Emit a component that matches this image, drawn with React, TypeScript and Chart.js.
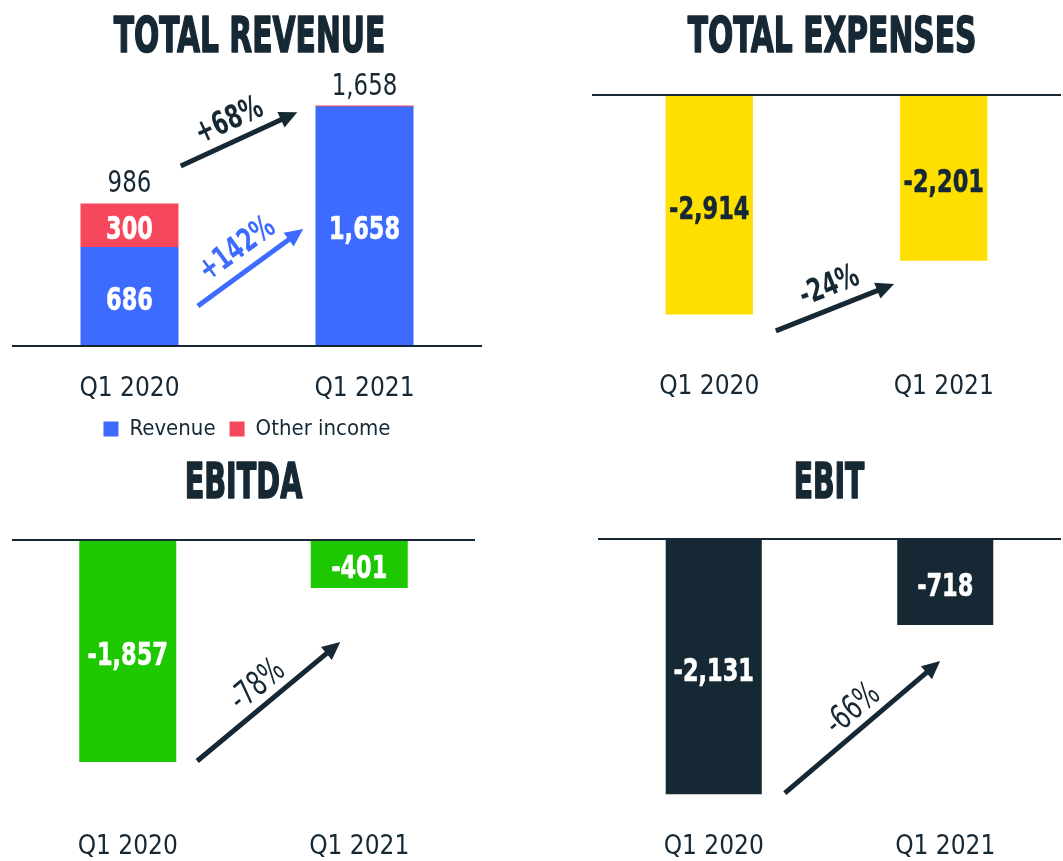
import React, { useEffect, useRef } from "react";
import { Chart, registerables } from "chart.js";

Chart.register(...registerables);

// ---------------- data ----------------
const quarters = ["Q1 2020", "Q1 2021"];
const revenue = [686, 1658];
const otherIncome = [300, 0];
const revenueTotals = [986, 1658];
const totalExpenses = [-2914, -2201];
const ebitda = [-1857, -401];
const ebit = [-2131, -718];
const totalRevenueChange = "+68%";
const revenueChange = "+142%";
const expensesChange = "-24%";
const ebitdaChange = "-78%";
const ebitChange = "-66%";

// ---------------- styles ----------------
const NARROW =
  "'Liberation Sans Narrow', 'DejaVu Sans Condensed', 'Arial Narrow', 'Liberation Sans', sans-serif";
const DARK = "#172835";
const BLUE = "#3d6bff";
const RED = "#f5485d";
const YELLOW = "#ffdf00";
const GREEN = "#1dc800";

const fmt = (v: number) => v.toLocaleString("en-US");

function drawText(
  ctx: any,
  text: string,
  x: number,
  y: number,
  o: { font: string; color: string; k: number; baseline?: string; rotation?: number; stroke?: number }
) {
  ctx.save();
  ctx.translate(x, y);
  if (o.rotation) ctx.rotate(o.rotation);
  ctx.scale(o.k, 1);
  ctx.font = o.font;
  ctx.fillStyle = o.color;
  ctx.textAlign = "center";
  ctx.textBaseline = o.baseline || "alphabetic";
  ctx.fillText(text, 0, 0);
  if (o.stroke) {
    ctx.strokeStyle = o.color;
    ctx.lineWidth = o.stroke;
    ctx.lineJoin = "round";
    ctx.strokeText(text, 0, 0);
  }
  ctx.restore();
}

function makeDecor(spec: any) {
  return {
    id: "decor",
    afterDraw(chart: any) {
      const ctx = chart.ctx;
      const xs = chart.scales.x;
      const ys = chart.scales.y;
      if (spec.title) {
        const { text, cx, baseline, width, size } = spec.title;
        ctx.save();
        ctx.font = `bold ${size}px ${NARROW}`;
        const w = ctx.measureText(text).width + 2;
        ctx.restore();
        drawText(ctx, text, cx, baseline, {
          font: `bold ${size}px ${NARROW}`,
          color: DARK,
          k: width / w,
          stroke: 1.6,
        });
      }
      (spec.inside || []).forEach((s: any) => {
        const meta = chart.getDatasetMeta(s.dataset);
        const data = chart.data.datasets[s.dataset].data;
        meta.data.forEach((el: any, i: number) => {
          const v = data[i];
          if (!v) return;
          const mid = (el.y + el.base) / 2;
          drawText(ctx, fmt(v), el.x, mid + s.size * 0.365 + 2, {
            font: `bold ${s.size}px ${NARROW}`,
            color: s.color,
            k: s.k,
            stroke: 0.6,
          });
        });
      });
      if (spec.totals) {
        const { values, gap, size, k } = spec.totals;
        values.forEach((v: number, i: number) => {
          drawText(ctx, fmt(v), xs.getPixelForValue(i), ys.getPixelForValue(v) - gap, {
            font: `${size}px ${NARROW}`,
            color: DARK,
            k,
          });
        });
      }
      const c0 = xs.getPixelForValue(0);
      const c1 = xs.getPixelForValue(1);
      const px = (f: number) => c0 + f * (c1 - c0);
      (spec.arrows || []).forEach((a: any) => {
        const x1 = px(a.from[0]);
        const y1 = ys.getPixelForValue(a.from[1]);
        const x2 = px(a.to[0]);
        const y2 = ys.getPixelForValue(a.to[1]);
        const dx = x2 - x1;
        const dy = y2 - y1;
        const len = Math.hypot(dx, dy);
        const ux = dx / len;
        const uy = dy / len;
        const hl = 18;
        const hw = 8.5;
        ctx.save();
        ctx.strokeStyle = a.color;
        ctx.fillStyle = a.color;
        ctx.lineWidth = 5;
        ctx.lineCap = "butt";
        ctx.beginPath();
        ctx.moveTo(x1, y1);
        ctx.lineTo(x2 - ux * hl * 0.7, y2 - uy * hl * 0.7);
        ctx.stroke();
        const bx = x2 - ux * hl;
        const by = y2 - uy * hl;
        ctx.beginPath();
        ctx.moveTo(x2, y2);
        ctx.lineTo(bx - uy * hw, by + ux * hw);
        ctx.lineTo(bx + uy * hw, by - ux * hw);
        ctx.closePath();
        ctx.fill();
        ctx.restore();
        const lx = x1 + dx * a.t + uy * a.n;
        const ly = y1 + dy * a.t - ux * a.n;
        drawText(ctx, a.label, lx, ly, {
          font: `${a.weight} ${a.size}px ${NARROW}`,
          color: a.labelColor,
          k: a.k,
          baseline: "middle",
          rotation: Math.atan2(dy, dx),
        });
      });
    },
  };
}

function baseOptions(o: any) {
  return {
    responsive: false,
    maintainAspectRatio: false,
    animation: false,
    events: [],
    layout: { padding: o.padding },
    plugins: {
      legend: o.legend || { display: false },
      tooltip: { enabled: false },
      title: { display: false },
    },
    scales: {
      x: {
        stacked: !!o.stacked,
        grid: { display: false, drawTicks: false },
        border: { display: false },
        ticks: {
          color: DARK,
          font: { family: NARROW, size: 26 },
          padding: o.tickPad,
          maxRotation: 0,
          autoSkip: false,
        },
        afterFit: (s: any) => {
          s.height = o.xHeight;
        },
      },
      y: {
        stacked: !!o.stacked,
        min: o.yMin,
        max: o.yMax,
        ticks: { display: false },
        grid: {
          z: 1,
          drawTicks: false,
          lineWidth: 2,
          color: (c: any) => (c.tick && c.tick.value === 0 ? DARK : "rgba(0,0,0,0)"),
        },
        border: { display: false },
        afterFit: (s: any) => {
          s.width = 0;
        },
      },
    },
  };
}

const VALUE_K = 0.78;
const ARROW_K = 0.76;

const revenueConfig: any = {
  type: "bar",
  data: {
    labels: quarters,
    datasets: [
      { label: "Revenue", data: revenue, backgroundColor: BLUE, borderWidth: 0, barPercentage: 0.417, categoryPercentage: 1 },
      { label: "Other income", data: otherIncome, backgroundColor: RED, borderWidth: 0, barPercentage: 0.417, categoryPercentage: 1, minBarLength: 2 },
    ],
  },
  options: baseOptions({
    padding: { top: 60, left: 12, right: 49, bottom: 0 },
    yMin: 0,
    yMax: 1980,
    tickPad: 28,
    xHeight: 58,
    stacked: true,
    legend: {
      display: true,
      position: "bottom",
      labels: { boxWidth: 15, boxHeight: 15, padding: 14, color: DARK, font: { family: NARROW, size: 22 } },
    },
  }),
  plugins: [
    makeDecor({
      title: { text: "TOTAL REVENUE", cx: 249.5, baseline: 52, width: 273, size: 50 },
      inside: [
        { dataset: 0, color: "#ffffff", size: 32, k: VALUE_K },
        { dataset: 1, color: "#ffffff", size: 32, k: VALUE_K },
      ],
      totals: { values: revenueTotals, gap: 12, size: 30, k: 0.85 },
      arrows: [
        { from: [0.218, 1246], to: [0.714, 1619], color: DARK, label: totalRevenueChange, labelColor: DARK, weight: "bold", size: 32, k: ARROW_K, t: 0.49, n: 20 },
        { from: [0.291, 277], to: [0.739, 810], color: BLUE, label: revenueChange, labelColor: BLUE, weight: "bold", size: 32, k: ARROW_K, t: 0.5, n: 22 },
      ],
    }),
  ],
};

const expensesConfig: any = {
  type: "bar",
  data: {
    labels: quarters,
    datasets: [
      { label: "Total expenses", data: totalExpenses, backgroundColor: YELLOW, borderWidth: 0, barPercentage: 0.372, categoryPercentage: 1 },
    ],
  },
  options: baseOptions({
    padding: { top: 95, left: 61, right: 2, bottom: 0 },
    yMin: -3520,
    yMax: 0,
    tickPad: 12,
    xHeight: 90,
  }),
  plugins: [
    makeDecor({
      title: { text: "TOTAL EXPENSES", cx: 301, baseline: 52, width: 290, size: 50 },
      inside: [{ dataset: 0, color: DARK, size: 32, k: VALUE_K }],
      arrows: [
        { from: [0.284, -3134], to: [0.788, -2510], color: DARK, label: expensesChange, labelColor: DARK, weight: "bold", size: 32, k: ARROW_K, t: 0.52, n: 21 },
      ],
    }),
  ],
};

const ebitdaConfig: any = {
  type: "bar",
  data: {
    labels: quarters,
    datasets: [
      { label: "EBITDA", data: ebitda, backgroundColor: GREEN, borderWidth: 0, barPercentage: 0.419, categoryPercentage: 1 },
    ],
  },
  options: baseOptions({
    padding: { top: 100, left: 12, right: 56, bottom: 0 },
    yMin: -2174,
    yMax: 0,
    tickPad: 32,
    xHeight: 61,
  }),
  plugins: [
    makeDecor({
      title: { text: "EBITDA", cx: 243.5, baseline: 58, width: 119, size: 50 },
      inside: [{ dataset: 0, color: "#ffffff", size: 32, k: VALUE_K }],
      arrows: [
        { from: [0.3, -1848], to: [0.918, -853], color: DARK, label: ebitdaChange, labelColor: DARK, weight: "normal", size: 34, k: ARROW_K, t: 0.51, n: 19 },
      ],
    }),
  ],
};

const ebitConfig: any = {
  type: "bar",
  data: {
    labels: quarters,
    datasets: [
      { label: "EBIT", data: ebit, backgroundColor: DARK, borderWidth: 0, barPercentage: 0.415, categoryPercentage: 1 },
    ],
  },
  options: baseOptions({
    padding: { top: 99, left: 67, right: 2, bottom: 0 },
    yMin: -2180,
    yMax: 0,
    tickPad: 32,
    xHeight: 61,
  }),
  plugins: [
    makeDecor({
      title: { text: "EBIT", cx: 298, baseline: 58, width: 72, size: 50 },
      inside: [{ dataset: 0, color: "#ffffff", size: 32, k: VALUE_K }],
      arrows: [
        { from: [0.307, -2122], to: [0.978, -1019], color: DARK, label: ebitChange, labelColor: DARK, weight: "normal", size: 34, k: ARROW_K, t: 0.52, n: 19 },
      ],
    }),
  ],
};

function ChartBox(props: { left: number; top: number; width: number; height: number; config: any }) {
  const ref = useRef<HTMLCanvasElement>(null);
  useEffect(() => {
    const chart = new Chart(ref.current as HTMLCanvasElement, props.config);
    return () => chart.destroy();
  }, []);
  return (
    <canvas
      ref={ref}
      width={props.width}
      height={props.height}
      style={{ position: "absolute", left: props.left, top: props.top, width: props.width, height: props.height }}
    />
  );
}

export default function App() {
  return (
    <div style={{ position: "absolute", left: 0, top: 0, width: 1063, height: 861, background: "#ffffff" }}>
      <ChartBox left={0} top={0} width={531} height={450} config={revenueConfig} />
      <ChartBox left={531} top={0} width={532} height={450} config={expensesConfig} />
      <ChartBox left={0} top={440} width={531} height={421} config={ebitdaConfig} />
      <ChartBox left={531} top={440} width={532} height={421} config={ebitConfig} />
    </div>
  );
}
